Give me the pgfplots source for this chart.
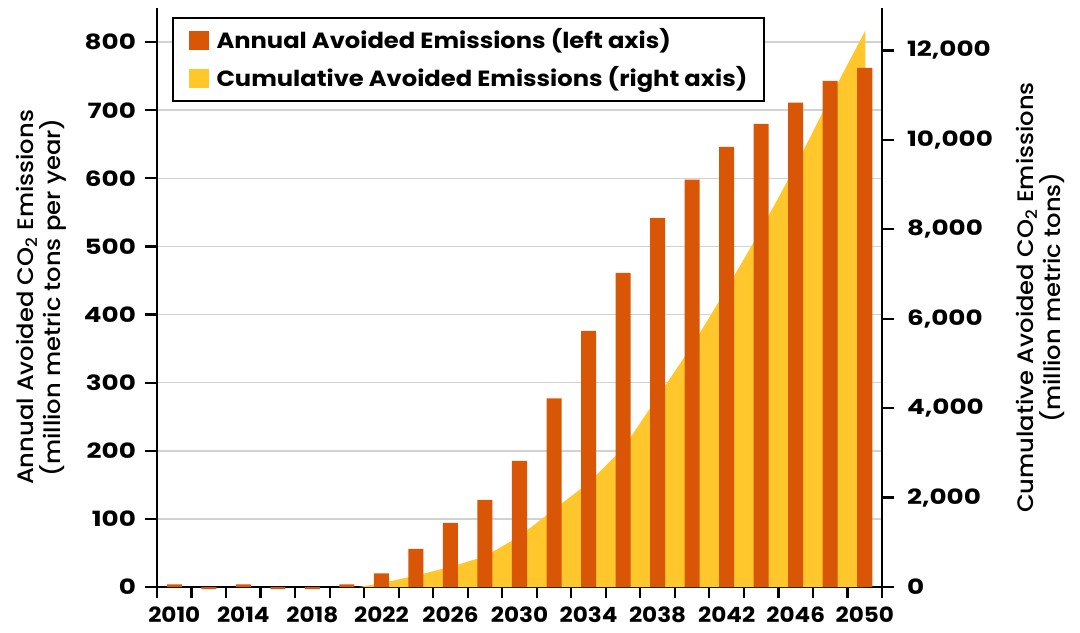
\documentclass[border=0pt]{standalone}
\usepackage{fontspec}
\setmainfont{Poppins}
\newfontfamily\tickfont{Poppins}[FakeStretch=1.1]
\newfontfamily\ytickfont{Poppins}[FakeStretch=1.25]
\newfontfamily\labfont{Poppins Medium}[FakeStretch=1.08]
\usepackage{pgfplots}
\pgfplotsset{compat=1.18}
\definecolor{barorange}{HTML}{DA5607}
\definecolor{cumyellow}{HTML}{FFC72C}
\definecolor{gridgray}{HTML}{D2D2D2}
\pgfplotsset{
  base/.style={
    scale only axis, width=362.5pt, height=289.5pt,
    xmin=-0.5, xmax=20.5,
    axis line style={line width=1.1pt},
    tick style={line width=1.1pt, black},
    tick align=outside, major tick length=6pt, minor tick length=5.5pt,
    xticklabel style={font=\tickfont\bfseries\fontsize{10.5}{12}\selectfont},
    yticklabel style={font=\ytickfont\bfseries\fontsize{10.5}{12}\selectfont},
    label style={font=\labfont\fontsize{11.2}{13.5}\selectfont, align=center},
    /pgf/number format/assume math mode=true,
    scaled y ticks=false,
  }
}
\begin{document}
\begin{tikzpicture}
\useasboundingbox (-78.5pt,-22.5pt) rectangle (461.5pt,293.5pt);
% left axis: grid, ticks, labels
\begin{axis}[base,
  axis y line*=left, axis x line*=bottom,
  ymin=0, ymax=850, ytick={0,100,...,800},
  ymajorgrids, grid style={gridgray, line width=0.8pt},
  xtick={0,2,...,20},
  xticklabels={2010,2014,2018,2022,2026,2030,2034,2038,2042,2046,2050},
  major x tick style={draw=none},
  minor xtick={-0.5,0.5,...,20.5},
  xticklabel style={yshift=-0.5pt},
  yticklabel style={xshift=-1pt},
  ylabel={Annual Avoided CO\textsubscript{2} Emissions\\(million metric tons per year)},
  ylabel style={at={(axis description cs:-0.16,0.5)}, anchor=center},
]
\end{axis}
% right axis: cumulative area
\begin{axis}[base,
  axis y line*=right, axis x line=none,
  ymin=0, ymax=12950, ytick={0,2000,...,12000},
  /pgf/number format/1000 sep={,},
  yticklabel style={xshift=3pt},
  ylabel={Cumulative Avoided CO\textsubscript{2} Emissions\\(million metric tons)},
  ylabel style={at={(axis description cs:1.219,0.5)}, anchor=center, rotate=0},
]
\addplot[fill=cumyellow, draw=none] coordinates {
 (5.35,0) (6,85) (7,255) (8,450) (9,685) (10,1135) (11,1735) (12,2330)
 (13,3100) (14,4250) (15,5400) (16,6670) (17,8000) (18,9420) (19,10950) (20.02,12450)
} \closedcycle;
\end{axis}
% bars + legend
\begin{axis}[base,
  hide axis, clip=false,
  ymin=0, ymax=850,
  legend style={at={(0.021,0.985)}, anchor=north west, draw=black, line width=1.1pt,
    fill=white, font=\tickfont\bfseries\fontsize{11}{12}\selectfont,
    inner xsep=6.5pt, inner ysep=3.5pt, row sep=3.5pt},
  legend cell align=left,
]
\addlegendimage{area legend, legend image code/.code={\fill[barorange] (1.5pt,-4.2pt) rectangle (10pt,4.2pt); \path (0pt,0pt) (12pt,0pt);}}
\addlegendentry{Annual Avoided Emissions (left axis)}
\addlegendimage{area legend, legend image code/.code={\fill[cumyellow] (1.5pt,-4.2pt) rectangle (10pt,4.2pt); \path (0pt,0pt) (12pt,0pt);}}
\addlegendentry{Cumulative Avoided Emissions (right axis)}
\addplot[ybar, bar width=0.435, fill=barorange, draw=none, forget plot] coordinates {
 (0,4) (1,-3) (2,4) (3,-3) (4,-3) (5,4) (6,20) (7,56) (8,94) (9,128)
 (10,185) (11,277) (12,376) (13,461) (14,542) (15,598) (16,646) (17,680)
 (18,711) (19,743) (20,762)
};
\end{axis}
\end{tikzpicture}
\end{document}
